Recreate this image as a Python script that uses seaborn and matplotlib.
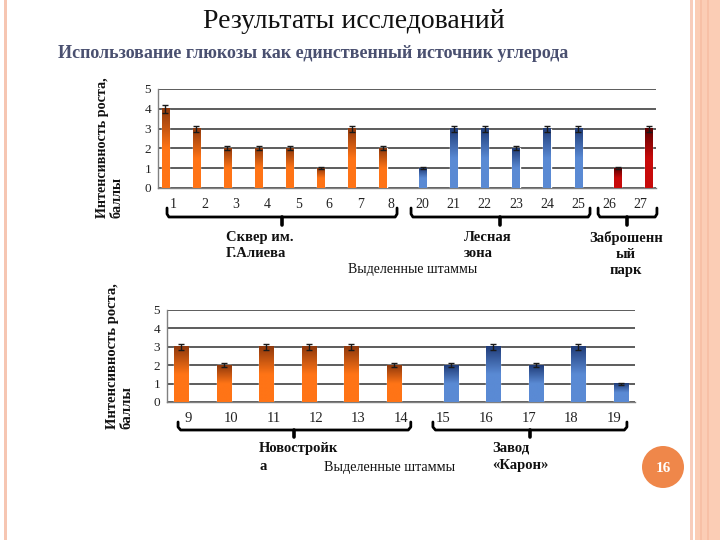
import numpy as np
import pandas as pd
import matplotlib
matplotlib.use("Agg")
import matplotlib.pyplot as plt
import seaborn as sns
from matplotlib.patches import Rectangle, Ellipse
from matplotlib.lines import Line2D
from matplotlib.colors import LinearSegmentedColormap
import matplotlib.transforms as mtransforms

# ---------------- data ----------------
top_strains = ["1", "2", "3", "4", "5", "6", "7", "8",
               "20", "21", "22", "23", "24", "25", "26", "27"]
top_values = [4, 3, 2, 2, 2, 1, 3, 2, 1, 3, 3, 2, 3, 3, 1, 3]
top_errors = [0.2, 0.15, 0.1, 0.1, 0.1, 0.05, 0.15, 0.1,
              0.05, 0.15, 0.15, 0.1, 0.15, 0.15, 0.05, 0.15]
top_sites = ["Сквер", "Сквер", "Сквер", "Сквер", "Сквер", "Сквер", "Сквер", "Сквер",
             "Лес", "Лес", "Лес", "Лес", "Лес", "Лес", "Парк", "Парк"]
top_site_order = ["Сквер", "Лес", "Парк"]
top_group_labels = ["Сквер им.\nГ.Алиева", "Лесная\nзона", "Заброшенн\nый\nпарк"]

bot_strains = ["9", "10", "11", "12", "13", "14", "15", "16", "17", "18", "19"]
bot_values = [3, 2, 3, 3, 3, 2, 2, 3, 2, 3, 1]
bot_errors = [0.15, 0.1, 0.15, 0.15, 0.15, 0.1, 0.1, 0.15, 0.1, 0.15, 0.05]
bot_sites = ["Новостройка", "Новостройка", "Новостройка", "Новостройка", "Новостройка",
             "Новостройка", "Завод", "Завод", "Завод", "Завод", "Завод"]
bot_site_order = ["Новостройка", "Завод"]
bot_group_labels = ["Новостройк\nа", "Завод\n«Карон»"]

title = "Результаты исследований"
subtitle = "Использование глюкозы как единственный источник углерода"
ylabel = "Интенсивность роста,\nбаллы"
xlabel = "Выделенные штаммы"
slide_number = "16"

# ---------------- style ----------------
sns.set_style("white")
plt.rcParams["font.family"] = ["Liberation Serif", "DejaVu Serif"]

W, H = 720, 540
fig = plt.figure(figsize=(W / 100, H / 100), dpi=100)
fig.patch.set_facecolor("white")


def fx(x):
    return x / W


def fy(y):
    return 1 - y / H


# colours: (bottom, top) of the vertical gradient
grad = {
    "orange": ("#ff7416", "#8e380c"),
    "blue": ("#5a8ad4", "#203c78"),
    "red": ("#c80a0a", "#5c0000"),
}
top_palette = {"Сквер": "#f06a14", "Лес": "#4272c0", "Парк": "#a00808"}
top_grad = {"Сквер": "orange", "Лес": "blue", "Парк": "red"}
bot_palette = {"Новостройка": "#f06a14", "Завод": "#4272c0"}
bot_grad = {"Новостройка": "orange", "Завод": "blue"}


def draw_panel(ax, strains, values, errors, sites, site_order, palette, gradmap,
               width, gap, xt_size):
    df = pd.DataFrame({"strain": strains, "value": values, "site": sites})
    sns.barplot(data=df, x="strain", y="value", hue="site", order=strains,
                hue_order=site_order, palette=palette, dodge=True,
                width=width, gap=gap, errorbar=None, legend=False, ax=ax,
                zorder=3)
    n = len(strains)
    # gradient fill + error bars from the bars seaborn drew
    xs, ys, es = [], [], []
    for cont, site in zip(ax.containers, site_order):
        c0, c1 = grad[gradmap[site]]
        cmap = LinearSegmentedColormap.from_list(site, [c0, c0, c1])
        for bar in cont:
            h = bar.get_height()
            if not np.isfinite(h) or h <= 0:
                continue
            x, w = bar.get_x(), bar.get_width()
            ax.imshow(np.linspace(0, 1, 128).reshape(-1, 1),
                      extent=(x, x + w, 0, h), origin="lower", cmap=cmap,
                      aspect="auto", zorder=3.5, interpolation="bilinear")
            idx = int(round(x + w / 2))
            xs.append(x + w / 2)
            ys.append(h)
            es.append(errors[idx])
    ax.errorbar(xs, ys, yerr=es, fmt="none", ecolor="#1a1a1a", elinewidth=1,
                capsize=2.3, capthick=1, zorder=5)
    ax.set_xlim(-0.5, n - 0.5)
    ax.set_ylim(0, 5)
    ax.set_aspect("auto")
    # axes styling
    ax.set_yticks(range(6))
    ax.yaxis.grid(True, color="#303030", linewidth=1.1, zorder=0)
    ax.set_axisbelow(True)
    for s in ["top", "right"]:
        ax.spines[s].set_visible(False)
    for s in ["left", "bottom"]:
        ax.spines[s].set_color("#808080")
        ax.spines[s].set_linewidth(1.0)
    ax.set_xticks(range(n))
    ax.set_xticklabels(strains)
    ax.set_xticks(np.arange(-0.5, n, 1.0), minor=True)
    ax.tick_params(axis="x", which="major", length=0, labelsize=xt_size,
                   pad=7, colors="#222222")
    ax.tick_params(axis="x", which="minor", length=4, width=1, color="#808080",
                   direction="out")
    ax.tick_params(axis="y", length=4, width=1, color="#808080", direction="out",
                   labelsize=9.5, pad=1, labelcolor="#222222")
    ax.set_xlabel("")
    ax.set_ylabel("")


def brace(ax, x0, x1, xm, y_line, y_end, y_tip):
    tr = mtransforms.blended_transform_factory(ax.transData, fig.transFigure)
    r = 0.06
    ln = Line2D([x0, x0, x0 + r, xm - 0.02, xm, xm + 0.02, x1 - r, x1, x1],
                [fy(y_end), fy(y_line - 3), fy(y_line), fy(y_line), fy(y_line),
                 fy(y_line), fy(y_line), fy(y_line - 3), fy(y_end)],
                transform=tr, color="black", linewidth=2.0,
                solid_joinstyle="round", solid_capstyle="round", clip_on=False)
    tip = Line2D([xm, xm], [fy(y_line), fy(y_tip)], transform=tr, color="black",
                 linewidth=2.6, clip_on=False)
    fig.add_artist(ln)
    fig.add_artist(tip)


# ---------------- top panel ----------------
ax1 = fig.add_axes([fx(158), fy(188), fx(656 - 158), (188 - 89) / H])
draw_panel(ax1, top_strains, top_values, top_errors, top_sites, top_site_order,
           top_palette, top_grad, 0.81, 0.15, 10)
brace(ax1, -0.21, 7.18, 3.48, 217, 208, 225)
brace(ax1, 7.63, 13.38, 10.49, 217, 208, 225)
brace(ax1, 13.64, 15.53, 14.57, 217, 208, 225)

bold = dict(fontweight="bold", fontsize=10.5, color="#111111", linespacing=1.3)
fig.text(fx(226), fy(231), top_group_labels[0], ha="left", va="top",
         multialignment="left", **bold)
fig.text(fx(464), fy(231), top_group_labels[1], ha="left", va="top",
         multialignment="left", **bold)
fig.text(fx(626), fy(231), top_group_labels[2], ha="center", va="top",
         multialignment="center", **bold)
fig.text(fx(413), fy(269), xlabel, ha="center", va="center", fontsize=10,
         color="#111111")
fig.text(fx(110), fy(148), ylabel, rotation=90, ha="center", va="center",
         multialignment="left", fontweight="bold", fontsize=10.2,
         color="#111111", linespacing=1.15)

# ---------------- bottom panel ----------------
ax2 = fig.add_axes([fx(167), fy(402), fx(635 - 167), (402 - 310) / H])
draw_panel(ax2, bot_strains, bot_values, bot_errors, bot_sites, bot_site_order,
           bot_palette, bot_grad, 0.66, 0.0, 10.5)
brace(ax2, -0.24, 5.23, 2.48, 430, 422, 437)
brace(ax2, 5.75, 10.31, 8.03, 430, 422, 437)
bold_b = dict(bold, linespacing=1.45)
fig.text(fx(259), fy(442), bot_group_labels[0], ha="left", va="top",
         multialignment="left", **bold_b)
fig.text(fx(492), fy(442), bot_group_labels[1], ha="left", va="top",
         multialignment="left", **bold_b)
fig.text(fx(390), fy(467), xlabel, ha="center", va="center", fontsize=10.2,
         color="#111111")
fig.text(fx(120), fy(356), ylabel, rotation=90, ha="center", va="center",
         multialignment="left", fontweight="bold", fontsize=10.5,
         color="#111111", linespacing=1.15)

# ---------------- titles ----------------
fig.text(fx(354), fy(21), title, ha="center", va="center", fontsize=20,
         color="#111111")
fig.text(fx(313), fy(53), subtitle, ha="center", va="center", fontsize=13,
         fontweight="bold", color="#4a5070")

# ---------------- slide decorations ----------------
fig.add_artist(Rectangle((fx(4), 0), fx(3), 1, transform=fig.transFigure,
                         facecolor="#f6c6b2", edgecolor="none"))
fig.add_artist(Rectangle((fx(690), 0), fx(3), 1, transform=fig.transFigure,
                         facecolor="#f8cdbb", edgecolor="none"))
fig.add_artist(Rectangle((fx(695), 0), fx(25), 1, transform=fig.transFigure,
                         facecolor="#fbcdb5", edgecolor="none"))
for sx in (700, 707):
    fig.add_artist(Rectangle((fx(sx), 0), fx(2), 1, transform=fig.transFigure,
                             facecolor="#f7c0a6", edgecolor="none"))
fig.add_artist(Ellipse((fx(663), fy(467)), 42 / W, 42 / H,
                       transform=fig.transFigure, facecolor="#ef874a",
                       edgecolor="none"))
fig.text(fx(663), fy(468), slide_number, ha="center", va="center",
         fontsize=11, fontweight="bold", color="white")

fig.savefig("out.png", dpi=100)
